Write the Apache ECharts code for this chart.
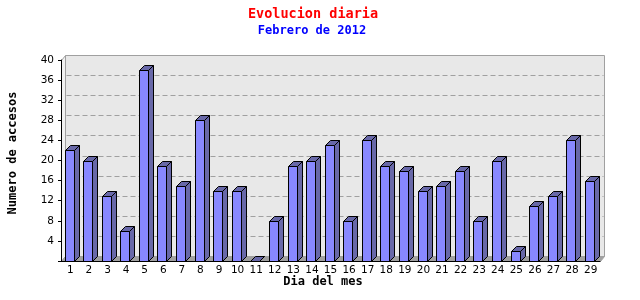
<!DOCTYPE html>
<html><head><meta charset="utf-8">
<script src="https://cdn.jsdelivr.net/npm/echarts@6/dist/echarts.min.js"></script>
<style>html,body{margin:0;padding:0;background:#fff}#c{width:640px;height:300px}</style>
</head><body><div id="c"></div>
<script>
const days = ['1','2','3','4','5','6','7','8','9','10','11','12','13','14','15','16','17','18','19','20','21','22','23','24','25','26','27','28','29'];
const visits = [22,20,13,6,38,19,15,28,14,14,0,8,19,20,23,8,24,19,18,14,15,18,8,20,2,11,13,24,16];
const yTicks = [4,8,12,16,20,24,28,32,36,40];
const titleText = 'Evolucion diaria';
const subtitleText = 'Febrero de 2012';
const xTitle = 'Dia del mes';
const yTitle = 'Numero de accesos';

const WALL_DX = 4, WALL_DY = 5, BAR_DX = 5, BAR_DY = 5, BAR_W = 9;

function renderWall(params, api) {
  if (params.dataIndex !== 0) return null;
  const cs = params.coordSys;
  const x = Math.round(cs.x) + 0.5, y = Math.round(cs.y) + 0.5;
  const w = Math.round(cs.width), h = Math.round(cs.height);
  const children = [];
  children.push({type:'polygon', shape:{points:[[x,y],[x+WALL_DX,y-WALL_DY],[x+WALL_DX,y+h-WALL_DY],[x,y+h]]},
    style:{fill:'#f2f2f2', stroke:'#a0a0a0', lineWidth:1}});
  children.push({type:'rect', shape:{x:x+WALL_DX, y:y-WALL_DY, width:w, height:h},
    style:{fill:'#e8e8e8', stroke:'#a0a0a0', lineWidth:1}});
  children.push({type:'polygon', shape:{points:[[x,y+h],[x+WALL_DX,y+h-WALL_DY],[x+w+WALL_DX,y+h-WALL_DY],[x+w,y+h]]},
    style:{fill:'#a0a0a0', stroke:'#a0a0a0', lineWidth:1}});
  yTicks.forEach(function(v){
    const py = Math.round(api.coord([0, v])[1]) + 0.5 - WALL_DY;
    children.push({type:'line', shape:{x1:x+WALL_DX+1, y1:py, x2:x+w+WALL_DX-1, y2:py},
      style:{stroke:'#a0a0a0', lineWidth:1, lineDash:[5,3]}});
  });
  return {type:'group', children: children};
}

function renderBar(params, api) {
  const idx = api.value(0), val = api.value(1);
  const top = api.coord([idx, val]);
  const base = api.coord([idx, 0]);
  const bw = api.size([1, 0])[0];
  const left = Math.round(top[0] - bw / 2 + 3.5) + 0.5;
  const yt = Math.round(top[1]) + 0.5, yb = Math.round(base[1]) + 0.5;
  const st = {stroke:'#000', lineWidth:1};
  const children = [];
  children.push({type:'polygon', shape:{points:[[left+BAR_W,yt],[left+BAR_W+BAR_DX,yt-BAR_DY],[left+BAR_W+BAR_DX,yb-BAR_DY],[left+BAR_W,yb]]},
    style:Object.assign({fill:'#6868a8'}, st)});
  children.push({type:'polygon', shape:{points:[[left,yt],[left+BAR_DX,yt-BAR_DY],[left+BAR_W+BAR_DX,yt-BAR_DY],[left+BAR_W,yt]]},
    style:Object.assign({fill:'#6868a8'}, st)});
  if (yb - yt > 0) {
    children.push({type:'rect', shape:{x:left, y:yt, width:BAR_W, height:yb-yt},
      style:Object.assign({fill:'#8888ff'}, st)});
  }
  return {type:'group', children: children};
}

const chart = echarts.init(document.getElementById('c'), null, {renderer:'canvas'});
chart.setOption({
  animation: false,
  backgroundColor: '#fff',
  grid: {left: 61, right: 40, top: 60, bottom: 39},
  xAxis: {
    type: 'category', data: days, boundaryGap: true, z: 5,
    axisLine: {lineStyle: {color: '#000', width: 1}},
    axisTick: {length: 4, lineStyle: {color: '#000'}},
    axisLabel: {color: '#000', fontSize: 10.5, fontFamily: 'DejaVu Sans', margin: 4, interval: 0}
  },
  yAxis: {
    type: 'value', min: 0, max: 40, interval: 4, z: 5,
    axisLine: {show: true, lineStyle: {color: '#000', width: 1}},
    axisTick: {show: true, length: 3, lineStyle: {color: '#000'}},
    splitLine: {show: false},
    axisLabel: {color: '#000', fontSize: 10.5, fontFamily: 'DejaVu Sans', margin: 7,
      formatter: function(v){ return v === 0 ? '' : String(v); }}
  },
  graphic: [
    {type:'text', x:313, y:14, style:{text:titleText, fill:'#ff0000', font:'bold 13.5px "DejaVu Sans Mono"', textAlign:'center', textVerticalAlign:'middle', align:'center', verticalAlign:'middle'}},
    {type:'text', x:312, y:31, style:{text:subtitleText, fill:'#0000ff', font:'bold 12px "DejaVu Sans Mono"', textAlign:'center', textVerticalAlign:'middle', align:'center', verticalAlign:'middle'}},
    {type:'text', x:323, y:282, style:{text:xTitle, fill:'#000', font:'bold 12px "DejaVu Sans Mono"', textAlign:'center', textVerticalAlign:'middle', align:'center', verticalAlign:'middle'}},
    {type:'text', x:13, y:153, rotation:Math.PI/2, style:{text:yTitle, fill:'#000', font:'bold 12px "DejaVu Sans Mono"', textAlign:'center', textVerticalAlign:'middle', align:'center', verticalAlign:'middle'}}
  ],
  series: [
    {type:'custom', renderItem: renderWall, data: [[0, 0]], silent: true, clip: false, z: -1},
    {type:'custom', renderItem: renderBar, data: visits.map(function(v, i){ return [i, v]; }), clip: false, z: 3}
  ]
});
</script>
</body></html>
